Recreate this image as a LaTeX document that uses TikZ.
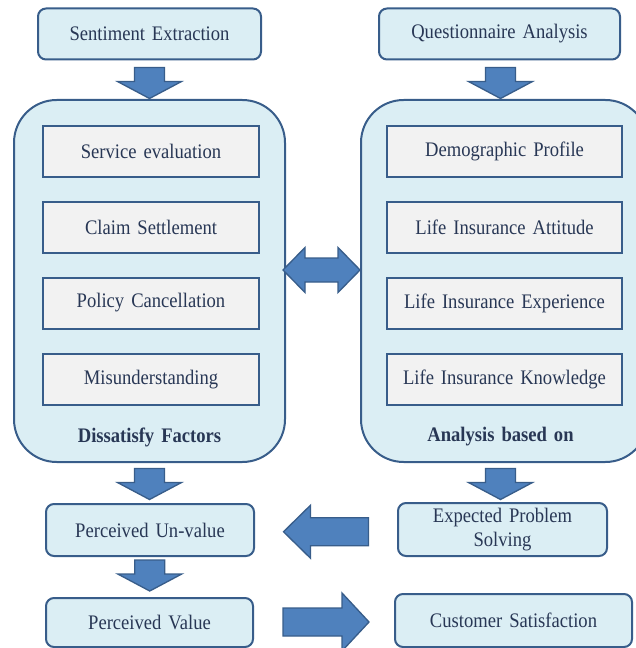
\documentclass[tikz,border=0pt]{standalone}
\usepackage{fontspec}
\setmainfont{Liberation Serif}[WordSpace=1.5, FakeStretch=0.9]
\usetikzlibrary{calc}

\definecolor{boxfill}{RGB}{219,238,244}
\definecolor{boxline}{RGB}{56,93,138}
\definecolor{arrowfill}{RGB}{79,129,189}
\definecolor{innerfill}{RGB}{242,242,242}
\definecolor{txt}{RGB}{40,55,85}

\tikzset{
	every picture/.style={line width=0.75pt},
	stepbox/.style={draw=boxline, fill=boxfill, line width=1.5pt, rounded corners=6pt,
		outer sep=0pt, inner sep=2pt, text=txt, font=\fontsize{15.5}{17.5}\selectfont, align=center},
	groupbox/.style={draw=boxline, fill=boxfill, line width=1.5pt, rounded corners=32pt,
		outer sep=0pt, inner sep=0pt},
	itembox/.style={draw=boxline, fill=innerfill, line width=1.5pt, outer sep=0pt,
		inner sep=2pt, text=txt, font=\fontsize{15.5}{17.5}\selectfont},
	grouplabel/.style={text=txt, font=\fontsize{15.5}{17.5}\selectfont\bfseries, inner sep=0pt},
	blockarrow/.style={draw=boxline, fill=arrowfill, line width=1pt, line join=miter},
	pics/down arrow/.style={code={
		\draw[blockarrow] (-15,15.5) -- (15,15.5) -- (15,1.5) -- (32,1.5) -- (0,-15.5)
			-- (-32,1.5) -- (-15,1.5) -- cycle;
	}},
	pics/left arrow/.style={code={
		\draw[blockarrow] (-42.5,0) -- (-15.5,-26.5) -- (-15.5,-14) -- (42.5,-14) -- (42.5,14)
			-- (-15.5,14) -- (-15.5,26.5) -- cycle;
	}},
	pics/right arrow/.style={code={
		\draw[blockarrow] (43,0) -- (16,-29) -- (16,-14) -- (-43,-14) -- (-43,14)
			-- (16,14) -- (16,29) -- cycle;
	}},
	pics/both arrow/.style={code={
		\draw[blockarrow] (-38.5,0) -- (-16.5,-22.5) -- (-16.5,-12) -- (16.5,-12) -- (16.5,-22.5)
			-- (38.5,0) -- (16.5,22.5) -- (16.5,12) -- (-16.5,12) -- (-16.5,22.5) -- cycle;
	}},
}

\begin{document}
\begin{tikzpicture}[x=0.75pt,y=0.75pt,yscale=-1,xscale=1]
	\useasboundingbox (0,0) rectangle (635,648);
	
	% top boxes
	\node[stepbox, minimum width=167.25pt, minimum height=38.25pt] (se) at (149.5,34) {Sentiment Extraction};
	\node[stepbox, minimum width=180.75pt, minimum height=38.25pt] (qa) at (499.5,34) {Questionnaire Analysis};
	
	% group containers
	\node[groupbox, minimum width=203.25pt, minimum height=271.5pt] (df) at (149.5,281) {};
	\node[groupbox, minimum width=215.25pt, minimum height=271.5pt] (ab) at (504.5,281) {};
	
	% dissatisfy factors
	\node[itembox, minimum width=162pt, minimum height=38.25pt] (sv) at (151,151.5) {Service evaluation};
	\node[itembox, minimum width=162pt, minimum height=38.25pt] (cl) at (151,227.5) {Claim Settlement};
	\node[itembox, minimum width=162pt, minimum height=38.25pt] (pc) at (151,303) {Policy Cancellation};
	\node[itembox, minimum width=162pt, minimum height=38.25pt] (mu) at (151,379.5) {Misunderstanding};
	\node[grouplabel] (dflabel) at ($(df.south)+(0,-25)$) {Dissatisfy Factors};
	
	% analysis based on
	\node[itembox, minimum width=176.25pt, minimum height=38.25pt] (dp) at (504.5,151.5) {Demographic Profile};
	\node[itembox, minimum width=176.25pt, minimum height=38.25pt] (la) at (504.5,227.5) {Life Insurance Attitude};
	\node[itembox, minimum width=176.25pt, minimum height=38.25pt] (le) at (504.5,303) {Life Insurance Experience};
	\node[itembox, minimum width=176.25pt, minimum height=38.25pt] (lk) at (504.5,379.5) {Life Insurance Knowledge};
	\node[grouplabel] (ablabel) at ($(ab.south)+(-4,-25)$) {Analysis based on};
	
	% bottom boxes
	\node[stepbox, minimum width=156pt, minimum height=39pt] (pu) at (150,530) {Perceived Un-value};
	\node[stepbox, minimum width=155.25pt, minimum height=36.75pt] (pv) at (149.5,622.5) {Perceived Value};
	\node[stepbox, minimum width=156.75pt, minimum height=39.75pt] (eps) at (502.5,529.5) {Expected Problem\\Solving};
	\node[stepbox, minimum width=177.75pt, minimum height=39.75pt] (cs) at (513.5,620.5) {Customer Satisfaction};
	
	% block arrows
	\pic at ($(se.south)+(0,23.5)$) {down arrow};
	\pic at ($(qa.south)+(1,23.5)$) {down arrow};
	\pic at ($(df.south)+(0,22)$) {down arrow};
	\pic at ($(eps.north)+(-2,-19)$) {down arrow};
	\pic at ($(pu.south)!0.5!(pv.north)+(0,-1.5)$) {down arrow};
	\pic at ($(df.east)!0.5!(ab.west)+(-1.5,-11)$) {both arrow};
	\pic at ($(pu.east)!0.5!(eps.west)+(0,2)$) {left arrow};
	\pic at ($(pv.east)!0.5!(cs.west)+(2,0.5)$) {right arrow};
	
\end{tikzpicture}
\end{document}
